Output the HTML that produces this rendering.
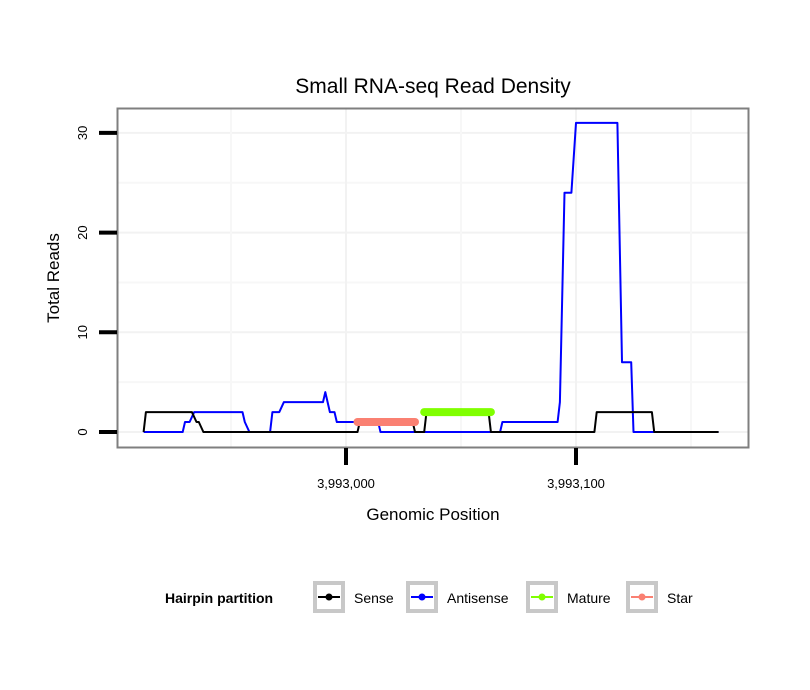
<!DOCTYPE html>
<html><head><meta charset="utf-8"><style>
body{margin:0;background:#fff;}
svg{display:block;font-family:"Liberation Sans",sans-serif;}
</style></head><body>
<svg id="chart" width="810" height="690">
<rect width="810" height="690" fill="#fff"/>
<text x="433" y="93" font-size="21" text-anchor="middle">Small RNA-seq Read Density</text>
<g id="grid"></g>
<g id="series"></g>
<rect x="117.5" y="108.5" width="631" height="339" fill="none" stroke="#7f7f7f" stroke-width="2"/>
<g id="axes"></g>
<text x="433" y="520" font-size="17" text-anchor="middle">Genomic Position</text>
<text transform="translate(59,278) rotate(-90)" font-size="17" text-anchor="middle">Total Reads</text>
<g>
<text x="165" y="603" font-size="14" font-weight="bold">Hairpin partition</text>
<g id="legend"></g>
</g>
</svg>
<script>
const xTicks=[3993000,3993100];
const xTickLabels=["3,993,000","3,993,100"];
const yTicks=[0,10,20,30];
const senseX=[-88,-87,-67,-65,-64,-62,5,6,29,30,34,35,62,63,108,109,133,134,162];
const senseY=[0,2,2,1,1,0,0,1,1,0,0,2,2,0,0,2,2,0,0];
const antiX=[-88,-71,-70,-68,-66,-45,-44,-42,-33,-32,-29,-27,-10,-9,-7,-5,-4,14,15,67,68,92,93,95,98,100,118,120,124,125,162];
const antiY=[0,0,1,1,2,2,1,0,0,2,2,3,3,4,2,2,1,1,0,0,1,1,3,24,24,31,31,7,7,0,0];
const matureX=[34,63]; const matureY=[2,2];
const starX=[5,30]; const starY=[1,1];
const legendLabels=["Sense","Antisense","Mature","Star"];
const legendColors=["#000000","#0000ff","#80ff00","#fa8072"];

const NS="http://www.w3.org/2000/svg";
const base=3993000;
function sx(p){return 346+(p-base)*2.3;}
function sxo(o){return sx(base+o);}
function sy(v){return 432-v*9.97;}
function mk(tag,attrs,parent){const e=document.createElementNS(NS,tag);for(const k in attrs)e.setAttribute(k,attrs[k]);parent.appendChild(e);return e;}
const grid=document.getElementById('grid'),series=document.getElementById('series'),axes=document.getElementById('axes'),legend=document.getElementById('legend');

for(let i=0;i<yTicks.length;i++){
  const l=mk('line',{x1:118,x2:748,y1:sy(yTicks[i]),y2:sy(yTicks[i]),stroke:'#f2f2f2','stroke-width':2},grid);
  
  
  if(i<yTicks.length-1){const m=(yTicks[i]+yTicks[i+1])/2;
    const l2=mk('line',{x1:118,x2:748,y1:sy(m),y2:sy(m),stroke:'#f7f7f7','stroke-width':2},grid);
    
    }
}
const xMinor=[xTicks[0]-50,xTicks[0]+50,xTicks[1]+50];
for(const p of xTicks.concat(xMinor)){
  const l=mk('line',{x1:sx(p),x2:sx(p),y1:109,y2:447,stroke:xTicks.includes(p)?'#f2f2f2':'#f7f7f7','stroke-width':2},grid);
  
  
}
function path(xs,ys,color,w,cap,name){
  let d='';for(let i=0;i<xs.length;i++)d+=(i?'L':'M')+sxo(xs[i]).toFixed(1)+' '+sy(ys[i]).toFixed(1);
  const p=mk('path',{d:d,fill:'none',stroke:color,'stroke-width':w,'stroke-linecap':cap,'stroke-linejoin':'round'},series);
  
  
}
path(antiX,antiY,'#0000ff',2,'butt','antisense-line');
path(senseX,senseY,'#000000',2,'butt','sense-line');
path(starX,starY,'#fa8072',8,'round','star-line');
path(matureX,matureY,'#80ff00',8,'round','mature-line');
for(const v of yTicks){
  const t=mk('line',{x1:99,x2:117,y1:sy(v),y2:sy(v),stroke:'#000','stroke-width':4},axes);
  
  
  const tx=mk('text',{transform:`translate(87,${sy(v)}) rotate(-90)`,'font-size':13,'text-anchor':'middle'},axes);
  tx.textContent=v;
  
  
}
for(let i=0;i<xTicks.length;i++){
  const x=sx(xTicks[i]);
  const t=mk('line',{x1:x,x2:x,y1:448,y2:465,stroke:'#000','stroke-width':4},axes);
  
  
  const tx=mk('text',{x:x,y:488,'font-size':13,'text-anchor':'middle'},axes);
  tx.textContent=xTickLabels[i];
  
  
}
const lx=[315,408,528,628];
for(let i=0;i<legendLabels.length;i++){
  const g=mk('g',{},legend);
  
  
  mk('rect',{x:lx[i],y:583,width:28,height:28,fill:'#fff',stroke:'#c8c8c8','stroke-width':4},g);
  mk('line',{x1:lx[i]+3,x2:lx[i]+25,y1:597,y2:597,stroke:legendColors[i],'stroke-width':2},g);
  mk('circle',{cx:lx[i]+14,cy:597,r:3.5,fill:legendColors[i]},g);
  const t=mk('text',{x:lx[i]+39,y:603,'font-size':14},g);
  t.textContent=legendLabels[i];
}
</script>
</body></html>
